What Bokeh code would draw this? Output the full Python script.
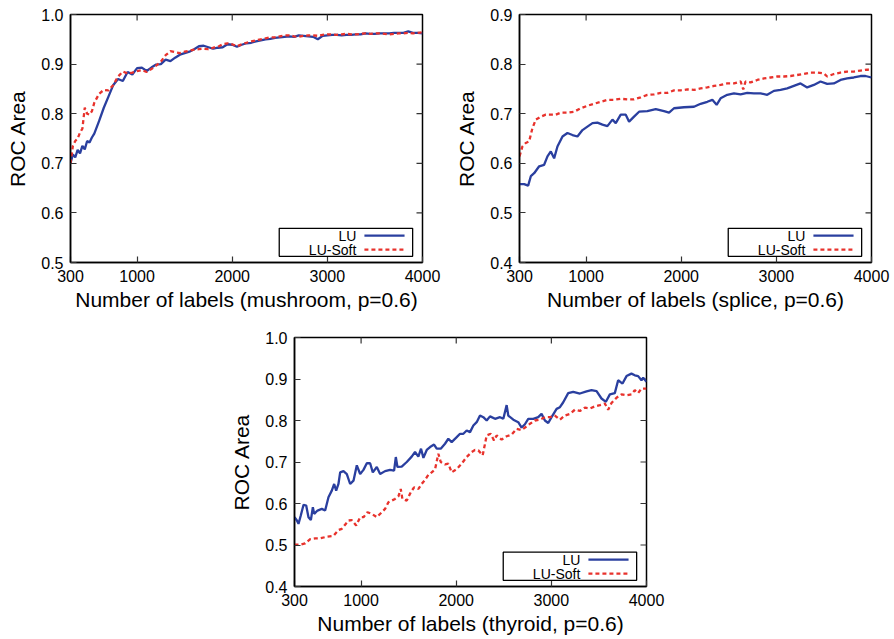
import math
from bokeh.plotting import figure
from bokeh.layouts import column, row, Spacer
from bokeh.models import Range1d, FixedTicker, PrintfTickFormatter, BoxAnnotation
from bokeh.core.properties import value
from bokeh.embed import file_html
from bokeh.resources import INLINE

FONT = "Liberation Sans"
BLUE = "#2a3f9f"
RED = "#e8322c"

X_TICKS = [300, 1000, 2000, 3000, 4000]
LEGEND_LABELS = ["LU", "LU-Soft"]

# ---------------- mushroom ----------------
MUSH_X = [300, 325, 350, 375, 400, 425, 450, 475, 500, 525, 550] + list(range(600, 4001, 50))
MUSH_LU = [0.700, 0.718, 0.712, 0.727, 0.720, 0.735, 0.728, 0.745, 0.742, 0.752, 0.760,
           0.785, 0.812, 0.835, 0.858, 0.870, 0.866, 0.884, 0.879, 0.892, 0.893,
           0.886, 0.893, 0.899, 0.900, 0.909, 0.906, 0.913, 0.919, 0.922, 0.925,
           0.930, 0.936, 0.937, 0.934, 0.931, 0.933, 0.934, 0.940, 0.939, 0.935,
           0.939, 0.942, 0.943, 0.946, 0.948, 0.950, 0.951, 0.953, 0.954, 0.955,
           0.956, 0.955, 0.958, 0.957, 0.956, 0.955, 0.950, 0.957, 0.958,
           0.959, 0.959, 0.958, 0.959, 0.959, 0.960, 0.960, 0.962, 0.961, 0.961,
           0.962, 0.962, 0.962, 0.963, 0.963, 0.963, 0.966, 0.963, 0.963, 0.962]
MUSH_SOFT = [0.700, 0.735, 0.745, 0.750, 0.762, 0.770, 0.812, 0.800, 0.798, 0.805, 0.822,
             0.840, 0.848, 0.847, 0.858, 0.875, 0.885, 0.881, 0.883, 0.886, 0.888,
             0.884, 0.890, 0.897, 0.905, 0.918, 0.926, 0.924, 0.922, 0.925, 0.927,
             0.929, 0.930, 0.931, 0.930, 0.933, 0.935, 0.940, 0.942, 0.940, 0.936,
             0.940, 0.943, 0.946, 0.948, 0.950, 0.952, 0.954, 0.954, 0.956, 0.958,
             0.958, 0.956, 0.955, 0.957, 0.958, 0.958, 0.957, 0.959, 0.960,
             0.960, 0.959, 0.960, 0.961, 0.960, 0.960, 0.961, 0.962, 0.961, 0.962,
             0.962, 0.961, 0.960, 0.961, 0.962, 0.962, 0.963, 0.962, 0.963, 0.964]

# ---------------- splice ----------------
SPL_LU_X = [300, 349, 391, 419, 454, 507, 559, 594, 629, 664, 699, 752, 804, 857, 909,
            962, 1014, 1067, 1119, 1172, 1224, 1277, 1312, 1364, 1417, 1452, 1504, 1557, 1644, 1732,
            1819, 1872, 1924, 2029, 2134, 2204, 2274, 2327, 2372, 2414, 2484, 2554, 2624, 2694, 2764,
            2834, 2904, 2974, 3044, 3114, 3184, 3254, 3324, 3394, 3464, 3534, 3604, 3674, 3744, 3814,
            3884, 3937, 4000]
SPL_LU = [0.558, 0.558, 0.555, 0.574, 0.580, 0.594, 0.597, 0.614, 0.624, 0.610, 0.634, 0.654, 0.661, 0.657, 0.654,
          0.667, 0.674, 0.681, 0.682, 0.678, 0.675, 0.688, 0.681, 0.698, 0.698, 0.684, 0.694, 0.704, 0.705, 0.709,
          0.705, 0.702, 0.711, 0.713, 0.714, 0.720, 0.724, 0.728, 0.718, 0.731, 0.738, 0.741, 0.739, 0.742, 0.741,
          0.741, 0.738, 0.746, 0.748, 0.751, 0.756, 0.761, 0.753, 0.758, 0.765, 0.760, 0.761, 0.768, 0.771, 0.773,
          0.776, 0.776, 0.773]
SPL_SOFT_X = [300, 331, 366, 401, 436, 471, 524, 576, 629, 681, 734, 804, 874, 944, 1014,
              1084, 1154, 1224, 1294, 1364, 1434, 1504, 1574, 1644, 1714, 1784, 1854, 1924, 1994, 2064,
              2134, 2204, 2274, 2344, 2414, 2484, 2554, 2624, 2652, 2676, 2729, 2799, 2869, 2939, 3009,
              3079, 3149, 3219, 3289, 3359, 3429, 3499, 3534, 3604, 3674, 3744, 3814, 3884, 3954, 4000]
SPL_SOFT = [0.614, 0.634, 0.641, 0.644, 0.671, 0.688, 0.694, 0.698, 0.698, 0.698, 0.702, 0.702, 0.704, 0.711, 0.716,
            0.720, 0.724, 0.728, 0.728, 0.730, 0.729, 0.729, 0.733, 0.738, 0.739, 0.742, 0.742, 0.747, 0.747, 0.749,
            0.748, 0.751, 0.753, 0.756, 0.758, 0.761, 0.761, 0.765, 0.749, 0.765, 0.763, 0.768, 0.771, 0.773, 0.775,
            0.775, 0.776, 0.778, 0.780, 0.783, 0.783, 0.781, 0.775, 0.780, 0.783, 0.785, 0.785, 0.787, 0.789, 0.788]

# ---------------- thyroid ----------------
THY_LU_X = [300, 325, 342, 366, 395, 423, 447, 472, 493, 507, 542, 587, 622, 657, 692,
            717, 738, 762, 780, 815, 850, 885, 920, 955, 990, 1025, 1060, 1095, 1123, 1165,
            1200, 1252, 1305, 1347, 1365, 1382, 1427, 1480, 1532, 1567, 1602, 1630, 1655, 1690, 1725,
            1767, 1795, 1837, 1882, 1917, 1952, 2005, 2040, 2075, 2110, 2145, 2180, 2215, 2250, 2285,
            2320, 2355, 2408, 2460, 2495, 2530, 2547, 2600, 2652, 2687, 2722, 2757, 2810, 2862, 2897,
            2932, 2967, 3002, 3055, 3090, 3125, 3177, 3230, 3300, 3370, 3422, 3475, 3527, 3573, 3615,
            3667, 3702, 3748, 3790, 3842, 3877, 3912, 3947, 3965, 4000]
THY_LU = [0.567, 0.559, 0.551, 0.571, 0.597, 0.595, 0.567, 0.560, 0.591, 0.575, 0.583, 0.587, 0.583, 0.615, 0.631,
          0.647, 0.631, 0.647, 0.675, 0.678, 0.671, 0.647, 0.655, 0.692, 0.671, 0.681, 0.697, 0.697, 0.675, 0.688,
          0.671, 0.678, 0.681, 0.679, 0.712, 0.688, 0.689, 0.700, 0.713, 0.724, 0.713, 0.732, 0.710, 0.729, 0.736,
          0.742, 0.732, 0.732, 0.744, 0.756, 0.748, 0.760, 0.768, 0.768, 0.776, 0.772, 0.788, 0.796, 0.812, 0.808,
          0.800, 0.810, 0.804, 0.808, 0.804, 0.837, 0.812, 0.802, 0.796, 0.783, 0.791, 0.804, 0.804, 0.808, 0.816,
          0.800, 0.794, 0.808, 0.828, 0.832, 0.844, 0.866, 0.869, 0.865, 0.870, 0.873, 0.871, 0.853, 0.845, 0.863,
          0.866, 0.897, 0.889, 0.907, 0.913, 0.909, 0.907, 0.897, 0.903, 0.893]
THY_SOFT_X = [300, 360, 412, 465, 517, 570, 640, 710, 762, 797, 832, 867, 902, 948, 990,
              1025, 1067, 1112, 1165, 1217, 1252, 1287, 1322, 1357, 1392, 1417, 1434, 1480, 1522, 1557,
              1602, 1637, 1672, 1707, 1742, 1777, 1812, 1837, 1882, 1917, 1952, 2005, 2057, 2110, 2162,
              2197, 2232, 2278, 2320, 2362, 2397, 2425, 2477, 2530, 2582, 2635, 2687, 2740, 2775, 2827,
              2880, 2932, 2985, 3037, 3090, 3142, 3195, 3247, 3300, 3352, 3405, 3457, 3510, 3562, 3597,
              3632, 3685, 3737, 3790, 3842, 3877, 3912, 3947, 4000]
THY_SOFT = [0.501, 0.501, 0.504, 0.514, 0.516, 0.516, 0.520, 0.522, 0.536, 0.539, 0.549, 0.559, 0.560, 0.547, 0.567,
            0.567, 0.579, 0.575, 0.567, 0.579, 0.587, 0.603, 0.607, 0.611, 0.617, 0.635, 0.611, 0.607, 0.627, 0.639,
            0.635, 0.647, 0.657, 0.669, 0.675, 0.682, 0.720, 0.700, 0.694, 0.696, 0.675, 0.683, 0.696, 0.712, 0.724,
            0.729, 0.728, 0.716, 0.764, 0.768, 0.752, 0.764, 0.754, 0.762, 0.766, 0.780, 0.777, 0.786, 0.792, 0.800,
            0.802, 0.808, 0.808, 0.812, 0.802, 0.812, 0.816, 0.826, 0.823, 0.831, 0.829, 0.834, 0.837, 0.841, 0.826,
            0.842, 0.855, 0.863, 0.861, 0.863, 0.873, 0.866, 0.877, 0.877]

MUSH_YTICKS = [0.5, 0.6, 0.7, 0.8, 0.9, 1.0]
SPL_YTICKS = [0.4, 0.5, 0.6, 0.7, 0.8, 0.9]
THY_YTICKS = [0.4, 0.5, 0.6, 0.7, 0.8, 0.9, 1.0]


def panel(xlabel, yticks, lu_x, lu_y, soft_x, soft_y, top, bottom, right, frame_h):
    x0, x1 = X_TICKS[0], X_TICKS[-1]
    y0, y1 = yticks[0], yticks[-1]
    p = figure(frame_width=352, frame_height=frame_h,
               x_range=Range1d(x0, x1), y_range=Range1d(y0, y1),
               output_backend="svg", toolbar_location=None,
               min_border_left=70, min_border_top=top, min_border_bottom=bottom,
               min_border_right=right, background_fill_color="white",
               border_fill_color="white")
    p.xgrid.visible = False
    p.ygrid.visible = False
    p.outline_line_color = "black"
    p.outline_line_width = 1.5
    p.outline_line_alpha = 1.0
    for ax in (p.xaxis[0], p.yaxis[0]):
        ax.axis_line_width = 1.5
        ax.axis_line_color = "black"
        ax.major_tick_in = 6
        ax.major_tick_out = 0
        ax.major_tick_line_color = "#333333"
        ax.major_tick_line_width = 1.2
        ax.minor_tick_line_color = None
        ax.major_label_text_font = FONT
        ax.major_label_text_font_size = "16px"
        ax.major_label_text_color = "black"
        ax.axis_label_text_font = FONT
        ax.axis_label_text_font_size = "21px"
        ax.axis_label_text_font_style = "normal"
        ax.axis_label_text_color = "black"
    p.xaxis.ticker = FixedTicker(ticks=X_TICKS)
    p.yaxis.ticker = FixedTicker(ticks=yticks)
    p.yaxis.formatter = PrintfTickFormatter(format="%.1f")
    p.xaxis.major_label_standoff = 7
    p.yaxis.major_label_standoff = 7
    p.xaxis.axis_label_standoff = 3
    p.yaxis.axis_label_standoff = 9
    p.xaxis.axis_label = xlabel
    p.yaxis.axis_label = "ROC Area"

    # mirrored inward ticks on top and right edges
    inner_x = X_TICKS[1:-1]
    inner_y = yticks[1:-1]
    p.scatter(inner_x, [y1] * len(inner_x), marker="dash", angle=math.pi / 2,
              size=12, line_color="#333333", line_width=1.2)
    p.scatter([x1] * len(inner_y), inner_y, marker="dash", angle=0,
              size=12, line_color="#333333", line_width=1.2)

    # data
    p.line(lu_x, lu_y, line_color=BLUE, line_width=2.3)
    p.line(soft_x, soft_y, line_color=RED, line_width=2.3, line_dash="4 3")

    # legend box (gnuplot style: label then sample)
    fx = lambda f: x0 + f * (x1 - x0)
    fy = lambda f: y0 + f * (y1 - y0)
    p.add_layout(BoxAnnotation(left=fx(0.593), right=fx(0.972), bottom=fy(0.025), top=fy(0.138),
                               fill_color=None, line_color="black", line_width=1.3, line_alpha=1))
    rows_y = [fy(0.108), fy(0.052)]
    p.text([fx(0.812)] * 2, rows_y, text=LEGEND_LABELS, text_align="right",
           text_baseline="middle", text_font=value(FONT), text_font_size="14px",
           text_color="black")
    p.line([fx(0.835), fx(0.949)], [rows_y[0]] * 2, line_color=BLUE, line_width=2.3)
    p.line([fx(0.835), fx(0.949)], [rows_y[1]] * 2, line_color=RED, line_width=2.3, line_dash="4 3")
    return p


p1 = panel("Number of labels (mushroom, p=0.6)", MUSH_YTICKS, MUSH_X, MUSH_LU, MUSH_X, MUSH_SOFT,
           top=14, bottom=63, right=27, frame_h=248)
p2 = panel("Number of labels (splice, p=0.6)", SPL_YTICKS, SPL_LU_X, SPL_LU, SPL_SOFT_X, SPL_SOFT,
           top=14, bottom=63, right=20, frame_h=248)
p3 = panel("Number of labels (thyroid, p=0.6)", THY_YTICKS, THY_LU_X, THY_LU, THY_SOFT_X, THY_SOFT,
           top=12, bottom=52, right=30, frame_h=249)

layout = column(row(p1, p2), row(Spacer(width=224, height=10), p3))
open("out.html", "w").write(file_html(layout, INLINE))
